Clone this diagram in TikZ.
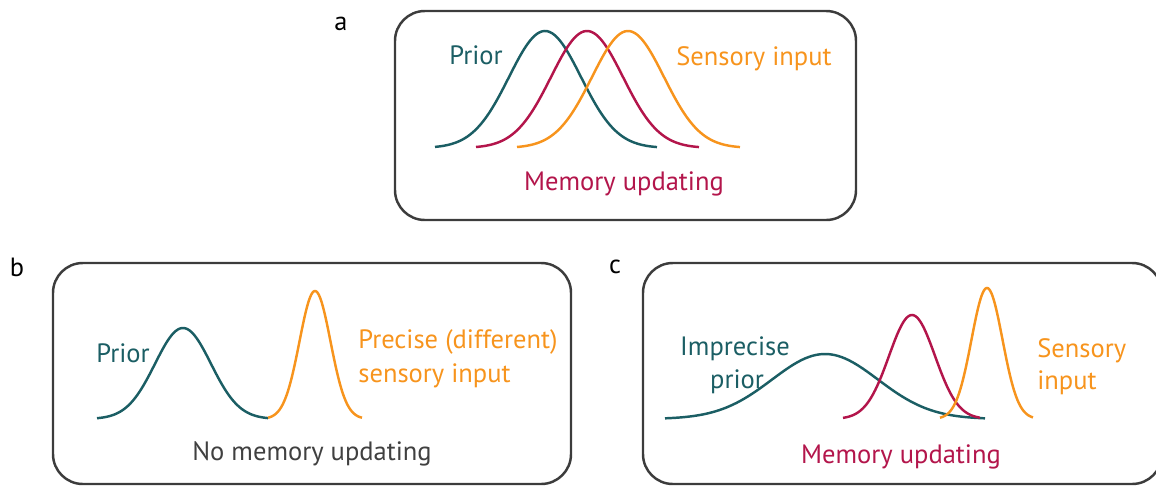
\documentclass[tikz,border=0pt]{standalone}
\usepackage{fontspec}
\setmainfont{PT Sans}
\definecolor{priorcol}{HTML}{1B5E64}
\definecolor{memcol}{HTML}{B3154B}
\definecolor{senscol}{HTML}{F7941D}
\definecolor{framecol}{HTML}{3C3C3C}
\definecolor{textgray}{HTML}{404040}
\tikzset{
  panel/.style={draw=framecol, line width=1.4pt, rounded corners=17pt},
  curve/.style={line width=1.4pt, smooth},
  lbl/.style={font=\fontsize{15.1}{18}\selectfont, inner sep=0pt},
  tag/.style={font=\fontsize{15}{18}\selectfont, inner sep=0pt, text=black},
}
% Gaussian bump: mean, std, height, baseline
\newcommand{\bump}[7][]{%
  \draw[curve,#1] plot[domain=#2:#3, samples=90]
    (\x, {#7-#6*exp(-0.5*((\x-#4)/#5)^2)});}
\begin{document}
\begin{tikzpicture}[x=0.02cm, y=-0.02cm]
\useasboundingbox (0,0) rectangle (1156,487);
\clip (0,0) rectangle (1156,487);

% panel frames
\draw[panel] (395,11) rectangle (856,220);
\draw[panel] (53,263) rectangle (571,484);
\draw[panel] (643,263) rectangle (1162,484);

% panel letters
\node[tag] (taga) at (341,24) {a};
\node[tag] (tagb) at (17,267) {b};
\node[tag] (tagc) at (615,267) {c};

% panel a: overlapping distributions
\bump[priorcol]{435}{657}{545}{36}{117}{148}
\bump[memcol]{476}{699}{587}{36}{117}{148}
\bump[senscol]{517}{740}{628}{36}{117}{148}
\node[lbl, text=priorcol, anchor=base west] (apr) at (449,64) {Prior};
\node[lbl, text=senscol, anchor=base west] (asens) at (676,65) {Sensory input};
\node[lbl, text=memcol, anchor=base] (amem) at (624,190) {Memory updating};

% panel b: precise, different input
\bump[priorcol]{97}{268}{183}{28}{91}{419}
\bump[senscol]{268}{362}{315}{15.5}{128}{419}
\node[lbl, text=priorcol, anchor=base west] (bpr) at (96,362) {Prior};
\node[lbl, text=senscol, anchor=base west] (bsens1) at (358,348) {Precise (different)};
\node[lbl, text=senscol, anchor=base west] (bsens2) at (358,382) {sensory input};
\node[lbl, text=textgray, anchor=base] (bmem) at (312,460) {No memory updating};

% panel c: imprecise prior
\bump[priorcol]{665}{985}{825}{53}{65}{419}
\bump[memcol]{843}{980}{912}{23}{104}{419}
\bump[senscol]{940}{1033}{987}{15.5}{131}{419}
\node[lbl, text=priorcol, anchor=base] (cpr1) at (735,355) {Imprecise};
\node[lbl, text=priorcol, anchor=base] (cpr2) at (737,388) {prior};
\node[lbl, text=senscol, anchor=base west] (csens1) at (1037,357) {Sensory};
\node[lbl, text=senscol, anchor=base west] (csens2) at (1037,389) {input};
\node[lbl, text=memcol, anchor=base] (cmem) at (901,463) {Memory updating};
\end{tikzpicture}
\end{document}
